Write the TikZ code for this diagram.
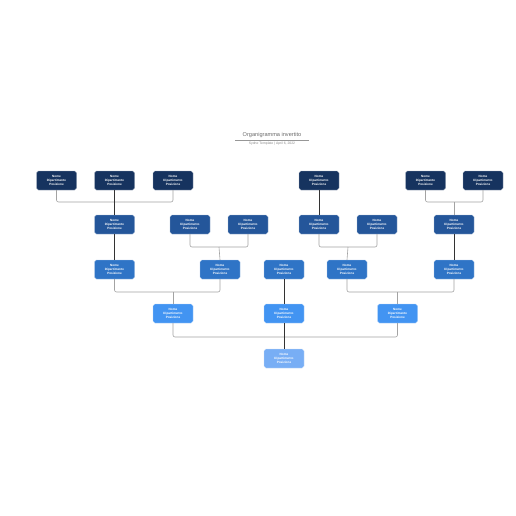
\documentclass[tikz,border=0pt]{standalone}
\usepackage{fontspec}
\setmainfont{Liberation Sans}
\usetikzlibrary{positioning}
\definecolor{cA}{HTML}{16335F}
\definecolor{cB}{HTML}{24569A}
\definecolor{cC}{HTML}{2F74C6}
\definecolor{cD}{HTML}{4294F2}
\definecolor{cE}{HTML}{78AEF5}
\definecolor{darkline}{HTML}{333333}
\definecolor{grayline}{HTML}{A3A3A3}
\definecolor{titlegray}{HTML}{6B6B6B}
\tikzset{
  orgbox/.style={draw=white!60!#1, line width=0.3pt, fill=#1, rounded corners=1.8pt,
    minimum width=40pt, minimum height=19pt, inner sep=0pt, text=white,
    font=\fontsize{3.1}{3.8}\selectfont\bfseries, align=center},
  direct/.style={draw=darkline, line width=0.9pt},
  bracket/.style={draw=grayline, line width=0.6pt, rounded corners=2pt},
}
\newcommand{\nd}{Nome\\Dipartimento\\Posizione}
\begin{document}
\begin{tikzpicture}[x=1pt,y=-1pt]
\useasboundingbox[fill=white] (0,0) rectangle (516,516);
% title
\node[font=\fontsize{5.6}{6}\selectfont, text=titlegray] (title) at (272,135.5) {Organigramma invertito};
\coordinate (tl) at (235,140);
\coordinate (tr) at (309,140);
\draw[titlegray!70, line width=0.4pt] (tl) -- (tr);
\node[font=\fontsize{3.4}{3.6}\selectfont, text=titlegray!80] (sub) at (272,143.6) {Sydne Template \textbar\ April 6, 2022};
% row 1
\node[orgbox=cA] (a1) at (56.5,180.5) {\nd};
\node[orgbox=cA] (a2) at (114.5,180.5) {\nd};
\node[orgbox=cA] (a3) at (173,180.5) {\nd};
\node[orgbox=cA] (a4) at (319,180.5) {\nd};
\node[orgbox=cA] (a5) at (425.5,180.5) {\nd};
\node[orgbox=cA] (a6) at (483,180.5) {\nd};
% row 2
\node[orgbox=cB] (b1) at (114.5,224.5) {\nd};
\node[orgbox=cB] (b2) at (190,224.5) {\nd};
\node[orgbox=cB] (b3) at (248,224.5) {\nd};
\node[orgbox=cB] (b4) at (319,224.5) {\nd};
\node[orgbox=cB] (b5) at (377,224.5) {\nd};
\node[orgbox=cB] (b6) at (454,224.5) {\nd};
% row 3
\node[orgbox=cC] (c1) at (114.5,269.5) {\nd};
\node[orgbox=cC] (c2) at (220,269.5) {\nd};
\node[orgbox=cC] (c3) at (284,269.5) {\nd};
\node[orgbox=cC] (c4) at (347,269.5) {\nd};
\node[orgbox=cC] (c5) at (454,269.5) {\nd};
% row 4
\node[orgbox=cD] (d1) at (173,313.5) {\nd};
\node[orgbox=cD] (d2) at (284,313.5) {\nd};
\node[orgbox=cD] (d3) at (397.5,313.5) {\nd};
% row 5
\node[orgbox=cE] (e1) at (284,358.5) {\nd};
% junction coordinates
\coordinate (j1) at (114.5,202);
\coordinate (j2) at (454,202);
\coordinate (j3) at (219,247);
\coordinate (j4) at (348,247);
\coordinate (j5) at (173,292);
\coordinate (j6) at (397.5,292);
\coordinate (j7) at (284,337);
% brackets
\draw[bracket] (a1.south) |- (j1) -| (a3.south);
\draw[bracket] (a5.south) |- (j2) -| (a6.south);
\draw[bracket] (j2) -- (b6.north);
\draw[bracket] (b2.south) |- (j3) -| (b3.south);
\draw[bracket] (j3) -- (c2.north);
\draw[bracket] (b4.south) |- (j4) -| (b5.south);
\draw[bracket] (j4) -- (c4.north);
\draw[bracket] (c1.south) |- (j5) -| (c2.south);
\draw[bracket] (j5) -- (d1.north);
\draw[bracket] (c4.south) |- (j6) -| (c5.south);
\draw[bracket] (j6) -- (d3.north);
\draw[bracket] (d1.south) |- (j7) -| (d3.south);
% direct lines
\draw[direct] (a2.south) -- (b1.north);
\draw[direct] (a4.south) -- (b4.north);
\draw[direct] (b1.south) -- (c1.north);
\draw[direct] (b6.south) -- (c5.north);
\draw[direct] (c3.south) -- (d2.north);
\draw[direct] (d2.south) -- (e1.north);
\end{tikzpicture}
\end{document}
